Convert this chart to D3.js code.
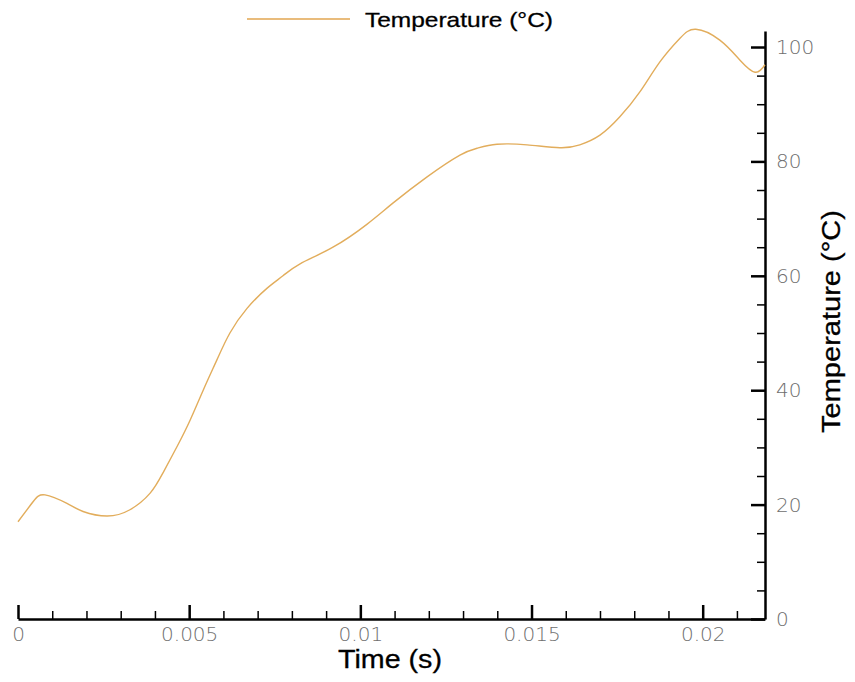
<!DOCTYPE html>
<html>
<head>
<meta charset="utf-8">
<script src="https://cdn.jsdelivr.net/npm/d3@7"></script>
<style>
  body { margin: 0; background: #fff; }
  svg { display: block; }
</style>
</head>
<body>
<div id="chart"></div>
<script>
// ---- data ----
const times = [0.0000, 0.00044, 0.00079, 0.00143, 0.0019, 0.0026, 0.00327, 0.00386, 0.00424,
  0.00465, 0.00503, 0.00541, 0.00581, 0.00619, 0.00669, 0.00727, 0.00774, 0.00824, 0.0092,
  0.01019, 0.01095, 0.01195, 0.01291, 0.01341, 0.01399, 0.01487, 0.01583, 0.01641, 0.017,
  0.01758, 0.01817, 0.01875, 0.01933, 0.0198, 0.0205, 0.02109, 0.02153, 0.02182];
const temps = [17.0, 20.5, 21.7, 20.2, 18.8, 18.0, 19.1, 22.0, 25.6,
  30.2, 34.8, 40.0, 45.3, 50.0, 54.3, 57.8, 60.0, 62.1, 65.0,
  69.0, 72.7, 77.3, 81.1, 82.3, 83.0, 82.9, 82.4, 82.9, 84.6,
  87.8, 92.2, 97.4, 101.5, 103.1, 101.2, 97.7, 95.6, 96.9];
const xMajorTicks = [0, 0.005, 0.01, 0.015, 0.02];
const xTickLabels = ["0", "0.005", "0.01", "0.015", "0.02"];
const yMajorTicks = [0, 20, 40, 60, 80, 100];
const yTickLabels = ["0", "20", "40", "60", "80", "100"];
const seriesName = "Temperature (\u00B0C)";
const xTitle = "Time (s)";
const yTitle = "Temperature (\u00B0C)";

const W = 855, H = 682;
const svg = d3.select("#chart").append("svg").attr("width", W).attr("height", H);

const x = d3.scaleLinear().domain([0, 0.02182]).range([18, 765]);
const y = d3.scaleLinear().domain([0, 102.8]).range([619, 31]);

const xMinor = d3.range(0, 0.0215, 0.001).filter(v => !xMajorTicks.some(m => Math.abs(m - v) < 1e-9));
const yMinor = d3.range(0, 101, 5).filter(v => v % 20 !== 0);

const titleFont = "'Liberation Sans', Arial, sans-serif";
const tickFont = "'DejaVu Sans', 'Liberation Sans', sans-serif";

function styleTicks(g) {
  g.selectAll("text").attr("font-family", tickFont).attr("font-size", 20)
    .attr("fill", "#6e6e6e").attr("font-weight", 200);
}

// x axis
const gx = svg.append("g").attr("transform", "translate(0,619)");
gx.append("g").call(d3.axisBottom(x).tickValues(xMinor).tickSize(-8).tickSizeOuter(0).tickFormat(""))
  .call(g => g.select(".domain").remove())
  .call(g => g.selectAll("line").attr("stroke", "#000").attr("stroke-width", 1.5));
gx.append("g").call(d3.axisBottom(x).tickValues(xMajorTicks).tickSize(-14).tickSizeOuter(0)
    .tickPadding(8).tickFormat((d, i) => xTickLabels[i]))
  .call(g => g.select(".domain").attr("stroke", "#000").attr("stroke-width", 2.5))
  .call(g => g.selectAll("line").attr("stroke", "#000").attr("stroke-width", 2.5))
  .call(styleTicks);

// y axis (right)
const gy = svg.append("g").attr("transform", "translate(765,0)");
gy.append("g").call(d3.axisRight(y).tickValues(yMinor).tickSize(-8).tickSizeOuter(0).tickFormat(""))
  .call(g => g.select(".domain").remove())
  .call(g => g.selectAll("line").attr("stroke", "#000").attr("stroke-width", 1.5));
gy.append("g").call(d3.axisRight(y).tickValues(yMajorTicks).tickSize(-14).tickSizeOuter(0)
    .tickPadding(11).tickFormat((d, i) => yTickLabels[i]))
  .call(g => g.select(".domain").attr("stroke", "#000").attr("stroke-width", 2.5))
  .call(g => g.selectAll("line").attr("stroke", "#000").attr("stroke-width", 2.5))
  .call(styleTicks);

// line
const line = d3.line().x((d, i) => x(times[i])).y(d => y(d)).curve(d3.curveNatural);
svg.append("path").datum(temps).attr("d", line)
  .attr("fill", "none").attr("stroke", "#e2ad5c").attr("stroke-width", 1.4);

// titles
svg.append("text").attr("x", 338).attr("y", 668)
  .attr("font-family", titleFont).attr("font-size", 25).attr("fill", "#000")
  .attr("stroke", "#000").attr("stroke-width", 0.3)
  .attr("textLength", 104).attr("lengthAdjust", "spacingAndGlyphs").text(xTitle);
svg.append("text").attr("transform", "translate(840,433) rotate(-90)")
  .attr("font-family", titleFont).attr("font-size", 26).attr("fill", "#000")
  .attr("stroke", "#000").attr("stroke-width", 0.3)
  .attr("textLength", 223).attr("lengthAdjust", "spacingAndGlyphs").text(yTitle);

// legend
svg.append("line").attr("x1", 247).attr("x2", 350).attr("y1", 19).attr("y2", 19)
  .attr("stroke", "#e2a650").attr("stroke-width", 1.4);
svg.append("text").attr("x", 365).attr("y", 27)
  .attr("font-family", titleFont).attr("font-size", 21).attr("fill", "#000")
  .attr("stroke", "#000").attr("stroke-width", 0.3)
  .attr("textLength", 188).attr("lengthAdjust", "spacingAndGlyphs").text(seriesName);
</script>
</body>
</html>
